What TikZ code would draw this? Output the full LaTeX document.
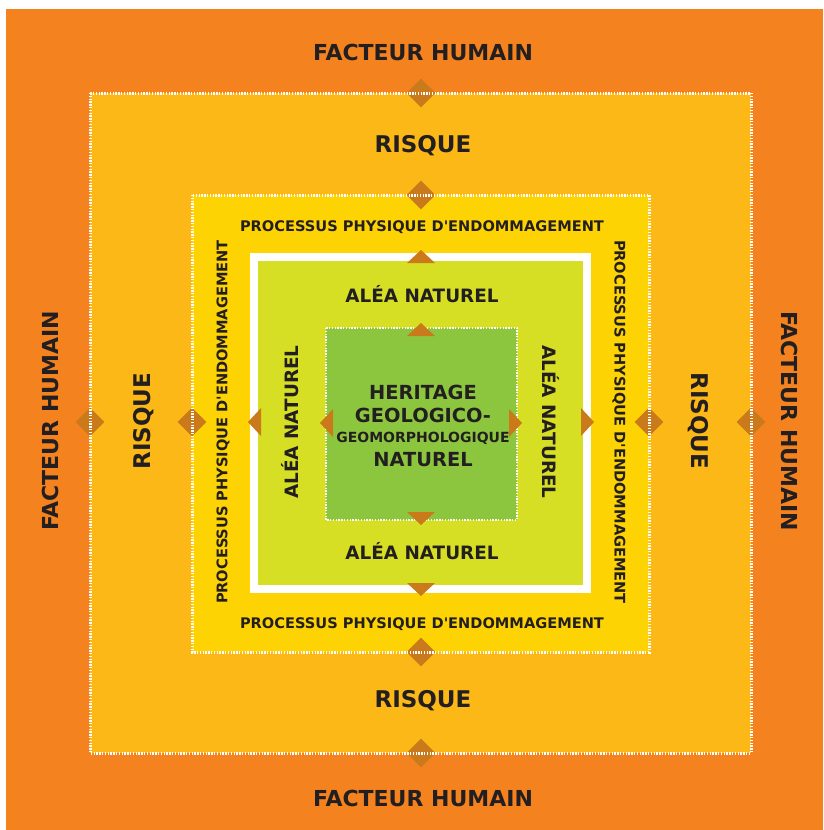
\documentclass[tikz,border=0pt]{standalone}
\usepackage{fontspec}
\setmainfont{DejaVu Sans}[Ligatures=TeXOff]
\usepackage{xcolor}
\usetikzlibrary{shapes.geometric}
\definecolor{Facteur}{HTML}{F3821F}
\definecolor{Risque}{HTML}{FBB817}
\definecolor{Process}{HTML}{FED303}
\definecolor{Alea}{HTML}{D6DF23}
\definecolor{Herit}{HTML}{8CC63F}
\definecolor{Mark}{HTML}{CA7A1A}
\definecolor{Ink}{HTML}{231F20}

\tikzset{
  lab/.style={text=Ink,inner sep=0pt,text depth=0pt},
  huge/.style={lab,font=\fontsize{22}{22}\selectfont\bfseries,text height=16pt},
  wide/.style={lab,font=\fontsize{23}{23}\selectfont\bfseries,text height=16.5pt},
  mid/.style={lab,font=\fontsize{18.4}{18}\selectfont\bfseries,text height=13.4pt},
  ctr/.style={lab,font=\fontsize{19.4}{19}\selectfont\bfseries,text height=14pt},
  small/.style={lab,font=\fontsize{14.6}{14}\selectfont\bfseries,text height=10.6pt},
  tiny/.style={lab,font=\fontsize{14}{14}\selectfont\bfseries,text height=10.2pt},
  dots/.style={white,line width=3pt,dash pattern=on 1.4pt off 1.4pt},
  losange/.style={diamond,fill=Mark,inner sep=0pt,minimum size=29pt}
}

\begin{document}
\begin{tikzpicture}[x=1pt,y=-1pt]
  \useasboundingbox (0,0) rectangle (823,830);
  \fill[white] (0,0) rectangle (823,830);
  % nested squares
  \fill[Facteur] (6,9) rectangle (823,830);
  \fill[Risque] (90,93) rectangle (751,753);
  \fill[Process] (192,195) rectangle (649,652);
  \fill[white] (250,253) rectangle (591,593);
  \fill[Alea] (258,261) rectangle (583,585);
  \fill[Herit] (326,328) rectangle (517,520);
  % markers on the borders
  \foreach \n/\x/\y in {rt/421/93,rb/421/753,rl/90/422,rr/751/422,
                        pt/421/195,pb/421/652,pl/192/422,pr/649/422}
    \node[losange] (m\n) at (\x,\y) {};
  \draw[dots] (90,93) rectangle (751,753);
  \draw[dots] (192,195) rectangle (649,652);
  \draw[dots,line width=2.4pt] (326,328) rectangle (517,520);
  \foreach \x/\y/\dx/\dy in {421/263/0/-1,421/583/0/1,261/422/-1/0,581/422/1/0,
                             421/336/0/-1,421/512/0/1,333/423/-1/0,509/423/1/0}
    \fill[Mark] ({\x+14*\dy},{\y+14*\dx}) -- ({\x+13*\dx},{\y+13*\dy})
      -- ({\x-14*\dy},{\y-14*\dx}) -- cycle;
  % labels
  \node[huge] (fhT) at (423,52) {FACTEUR HUMAIN};
  \node[huge] (fhB) at (423,798) {FACTEUR HUMAIN};
  \node[huge,rotate=90] (fhL) at (50,421) {FACTEUR HUMAIN};
  \node[huge,rotate=-90] (fhR) at (789,421) {FACTEUR HUMAIN};
  \node[wide] (rqT) at (423,144) {RISQUE};
  \node[wide] (rqB) at (423,699) {RISQUE};
  \node[wide,rotate=90] (rqL) at (142,421) {RISQUE};
  \node[wide,rotate=-90] (rqR) at (700,421) {RISQUE};
  \node[small] (ppT) at (422,226) {PROCESSUS PHYSIQUE D'ENDOMMAGEMENT};
  \node[small] (ppB) at (422,623) {PROCESSUS PHYSIQUE D'ENDOMMAGEMENT};
  \node[small,rotate=90] (ppL) at (222,422) {PROCESSUS PHYSIQUE D'ENDOMMAGEMENT};
  \node[small,rotate=-90] (ppR) at (620,422) {PROCESSUS PHYSIQUE D'ENDOMMAGEMENT};
  \node[mid] (anT) at (422,296) {ALÉA NATUREL};
  \node[mid] (anB) at (422,553) {ALÉA NATUREL};
  \node[mid,rotate=90] (anL) at (292,422) {ALÉA NATUREL};
  \node[mid,rotate=-90] (anR) at (549,422) {ALÉA NATUREL};
  \node[ctr] (hg1) at (423,392) {HERITAGE};
  \node[ctr] (hg2) at (423,415) {GEOLOGICO-};
  \node[tiny] (hg3) at (423,437) {GEOMORPHOLOGIQUE};
  \node[ctr] (hg4) at (423,459) {NATUREL};
\end{tikzpicture}
\end{document}
